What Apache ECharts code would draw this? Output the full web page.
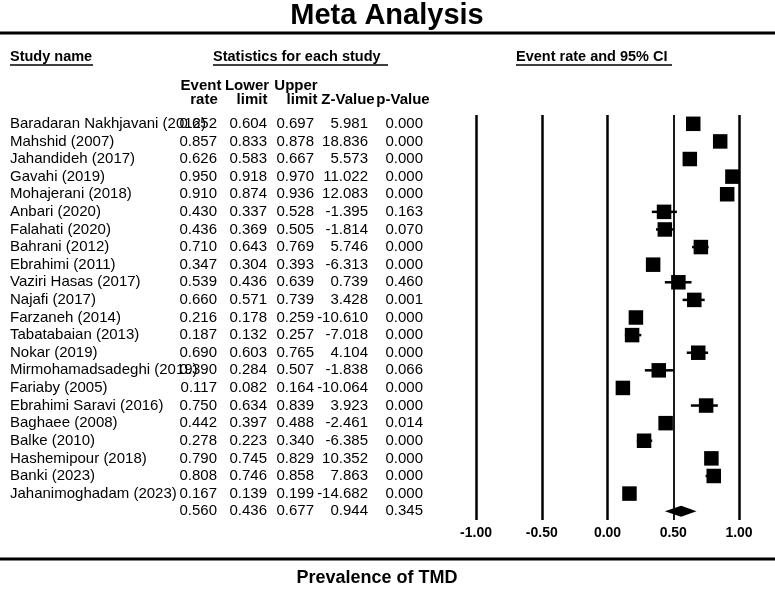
<!DOCTYPE html>
<html>
<head>
<meta charset="utf-8">
<script src="https://cdn.jsdelivr.net/npm/echarts@6/dist/echarts.min.js"></script>
<style>html,body{margin:0;padding:0;background:#fff;}#c{width:775px;height:594px;}</style>
</head>
<body>
<div id="c"></div>
<script>
const studies = [
  'Baradaran Nakhjavani (2012)', 'Mahshid (2007)', 'Jahandideh (2017)', 'Gavahi (2019)',
  'Mohajerani (2018)', 'Anbari (2020)', 'Falahati (2020)', 'Bahrani (2012)',
  'Ebrahimi (2011)', 'Vaziri Hasas (2017)', 'Najafi (2017)', 'Farzaneh (2014)',
  'Tabatabaian (2013)', 'Nokar (2019)', 'Mirmohamadsadeghi (2019)', 'Fariaby (2005)',
  'Ebrahimi Saravi (2016)', 'Baghaee (2008)', 'Balke (2010)', 'Hashemipour (2018)',
  'Banki (2023)', 'Jahanimoghadam (2023)'
];
const eventRate = [0.652, 0.857, 0.626, 0.950, 0.910, 0.430, 0.436, 0.710, 0.347, 0.539, 0.660,
  0.216, 0.187, 0.690, 0.390, 0.117, 0.750, 0.442, 0.278, 0.790, 0.808, 0.167];
const lowerLimit = [0.604, 0.833, 0.583, 0.918, 0.874, 0.337, 0.369, 0.643, 0.304, 0.436, 0.571,
  0.178, 0.132, 0.603, 0.284, 0.082, 0.634, 0.397, 0.223, 0.745, 0.746, 0.139];
const upperLimit = [0.697, 0.878, 0.667, 0.970, 0.936, 0.528, 0.505, 0.769, 0.393, 0.639, 0.739,
  0.259, 0.257, 0.765, 0.507, 0.164, 0.839, 0.488, 0.340, 0.829, 0.858, 0.199];
const zValue = [5.981, 18.836, 5.573, 11.022, 12.083, -1.395, -1.814, 5.746, -6.313, 0.739, 3.428,
  -10.610, -7.018, 4.104, -1.838, -10.064, 3.923, -2.461, -6.385, 10.352, 7.863, -14.682];
const pValue = [0.000, 0.000, 0.000, 0.000, 0.000, 0.163, 0.070, 0.000, 0.000, 0.460, 0.001,
  0.000, 0.000, 0.000, 0.066, 0.000, 0.000, 0.014, 0.000, 0.000, 0.000, 0.000];
const pooledRate = 0.560, pooledLower = 0.436, pooledUpper = 0.677, pooledZ = 0.944, pooledP = 0.345;
const xTicks = [-1, -0.5, 0, 0.5, 1];

const rowNames = studies.concat(['']);
const colRate = eventRate.concat([pooledRate]);
const colLower = lowerLimit.concat([pooledLower]);
const colUpper = upperLimit.concat([pooledUpper]);
const colZ = zValue.concat([pooledZ]);
const colP = pValue.concat([pooledP]);
const summaryIdx = studies.length;

const FONT = '"Liberation Sans", Arial, sans-serif';
const GRID_LEFT = 476;

function colAxis(arr, rightX) {
  return {
    type: 'category', data: rowNames, inverse: true, position: 'left', gridIndex: 0,
    offset: GRID_LEFT - rightX,
    axisLine: {show: false}, axisTick: {show: false}, splitLine: {show: false},
    axisLabel: {interval: 0, margin: 0, align: 'right', fontSize: 15, color: '#000', fontFamily: FONT,
      padding: [3, 0, 0, 0], formatter: (v, i) => arr[i].toFixed(3)}
  };
}

const chart = echarts.init(document.getElementById('c'), null, {renderer: 'canvas'});

const headTxt = (text, x, y, size, align) => ({
  type: 'text', x: x, y: y,
  style: {text: text, fill: '#000', font: 'bold ' + size + 'px ' + FONT, textAlign: align || 'left', textVerticalAlign: 'middle'}
});
const uline = (x1, x2, y) => ({type: 'line', shape: {x1: x1, y1: y, x2: x2, y2: y}, style: {stroke: '#000', lineWidth: 1.5}});

chart.setOption({
  animation: false,
  backgroundColor: '#fff',
  grid: {left: GRID_LEFT, right: 36, top: 115, bottom: 74, containLabel: false},
  xAxis: {
    type: 'value', min: -1, max: 1, interval: 0.5,
    axisLine: {show: false}, axisTick: {show: false},
    splitLine: {show: true, showMinLine: true, showMaxLine: true,
      lineStyle: {color: ['#000', '#000', '#000', 'rgba(0,0,0,0)', '#000'], width: 2.5}},
    axisLabel: {margin: 6, fontSize: 14, fontWeight: 'bold', color: '#000', fontFamily: FONT,
      formatter: v => v.toFixed(2)}
  },
  yAxis: [
    {
      type: 'category', data: rowNames, inverse: true, position: 'left', offset: GRID_LEFT - 10,
      axisLine: {show: false}, axisTick: {show: false}, splitLine: {show: false},
      axisLabel: {interval: 0, margin: 0, align: 'left', fontSize: 15, color: '#000', fontFamily: FONT,
        padding: [3, 0, 0, 0]}
    },
    colAxis(colRate, 217),
    colAxis(colLower, 267),
    colAxis(colUpper, 314),
    colAxis(colZ, 368),
    colAxis(colP, 423)
  ],
  series: [
    {
      type: 'custom', name: 'ci', coordinateSystem: 'cartesian2d', xAxisIndex: 0, yAxisIndex: 0,
      data: studies.map((s, i) => [lowerLimit[i], upperLimit[i], i]),
      encode: {x: [0, 1], y: 2},
      renderItem: function (params, api) {
        const a = api.coord([api.value(0), api.value(2)]);
        const b = api.coord([api.value(1), api.value(2)]);
        return {type: 'line', shape: {x1: a[0], y1: a[1], x2: b[0], y2: b[1]}, style: {stroke: '#000', lineWidth: 2.5}};
      },
      z: 2
    },
    {
      type: 'scatter', name: 'rate', xAxisIndex: 0, yAxisIndex: 0,
      data: studies.map((s, i) => [eventRate[i], i]),
      symbol: 'rect', symbolSize: 14.5, itemStyle: {color: '#000', opacity: 1}, z: 3
    },
    {
      type: 'custom', name: 'pooled', coordinateSystem: 'cartesian2d', xAxisIndex: 0, yAxisIndex: 0,
      data: [[pooledLower, pooledRate, pooledUpper, summaryIdx]],
      encode: {x: [0, 1, 2], y: 3},
      renderItem: function (params, api) {
        const l = api.coord([api.value(0), api.value(3)]);
        const m = api.coord([api.value(1), api.value(3)]);
        const u = api.coord([api.value(2), api.value(3)]);
        const h = 5.5;
        return {type: 'polygon', shape: {points: [[l[0], l[1]], [m[0], m[1] - h], [u[0], u[1]], [m[0], m[1] + h]]},
          style: {fill: '#000'}};
      },
      z: 3
    },
    {
      type: 'line', name: 'nullLine', xAxisIndex: 0, yAxisIndex: 0, data: [], silent: true,
      markLine: {symbol: 'none', silent: true, label: {show: false},
        lineStyle: {color: '#000', width: 1.8, type: 'solid', opacity: 1},
        data: [{xAxis: xTicks[3]}]}
    }
  ],
  graphic: [
    {type: 'text', x: 387, y: 16, style: {text: 'Meta Analysis', fill: '#000', font: 'bold 29px ' + FONT, textAlign: 'center', textVerticalAlign: 'middle'}},
    {type: 'line', shape: {x1: 0, y1: 33, x2: 775, y2: 33}, style: {stroke: '#000', lineWidth: 3}},
    headTxt('Study name', 10, 57, 14.5),
    uline(10, 93, 65),
    headTxt('Statistics for each study', 213, 57, 14.5),
    uline(213, 388, 65),
    headTxt('Event rate and 95% CI', 516, 57, 14.5),
    uline(516, 672, 65),
    headTxt('Event', 201, 86, 15, 'center'),
    headTxt('rate', 204, 100, 15, 'center'),
    headTxt('Lower', 247, 86, 15, 'center'),
    headTxt('limit', 252, 100, 15, 'center'),
    headTxt('Upper', 296, 86, 15, 'center'),
    headTxt('limit', 302, 100, 15, 'center'),
    headTxt('Z-Value', 348, 100, 15, 'center'),
    headTxt('p-Value', 403, 100, 15, 'center'),
    {type: 'line', shape: {x1: 0, y1: 559, x2: 775, y2: 559}, style: {stroke: '#000', lineWidth: 3}},
    {type: 'text', x: 377, y: 578, style: {text: 'Prevalence of TMD', fill: '#000', font: 'bold 18px ' + FONT, textAlign: 'center', textVerticalAlign: 'middle'}}
  ]
});
</script>
</body>
</html>
